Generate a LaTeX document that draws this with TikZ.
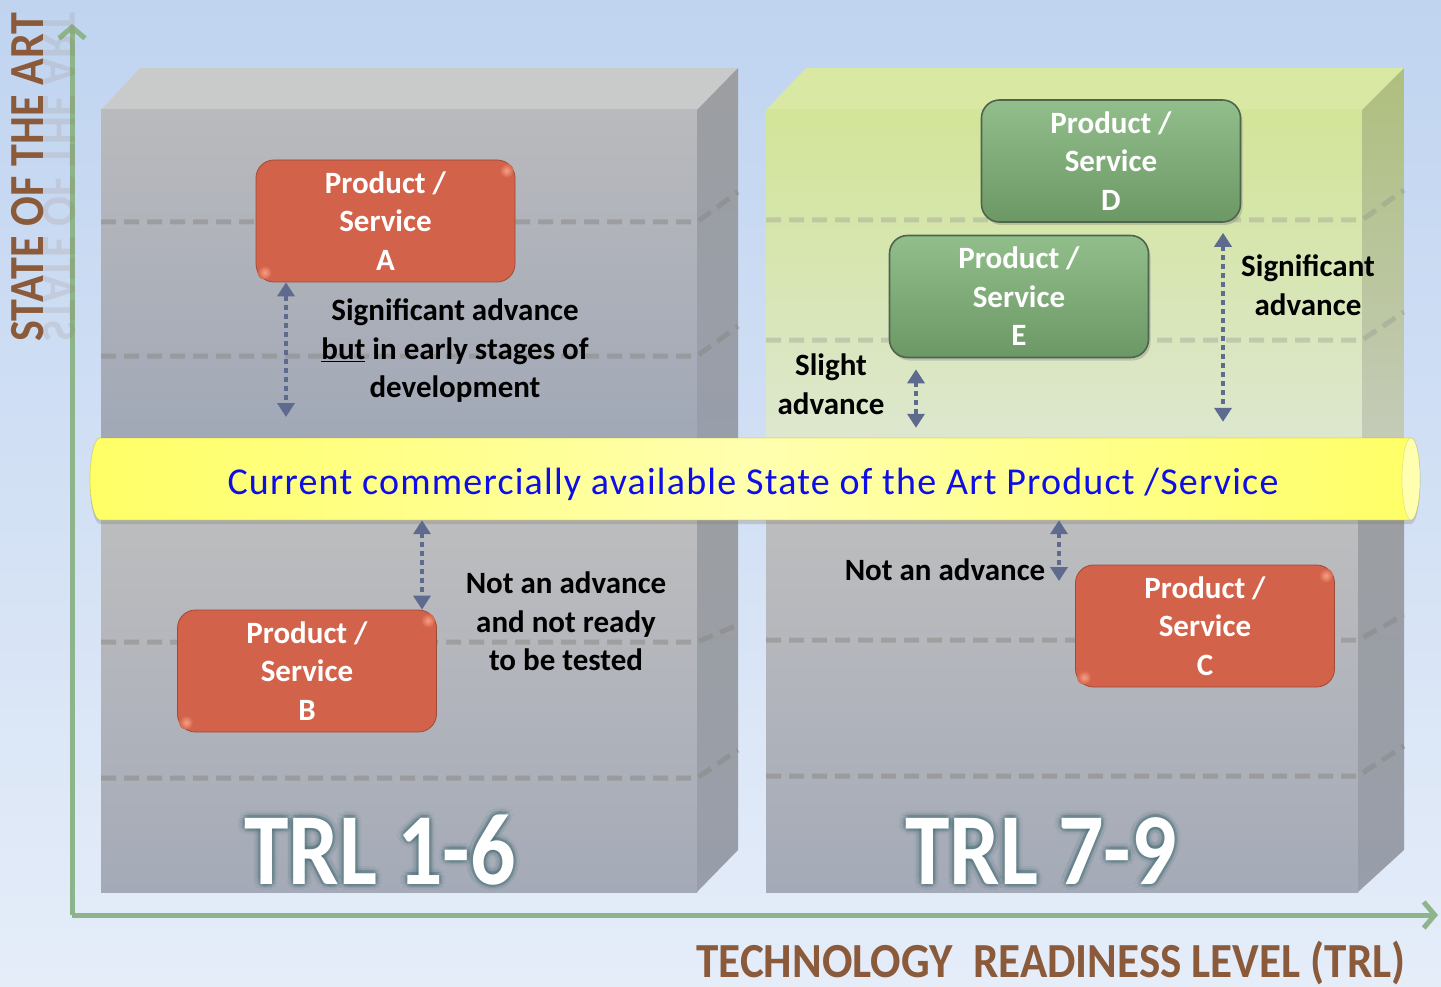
\documentclass[tikz,border=0pt]{standalone}
\usepackage{fontspec}
\setmainfont{Carlito}
\newfontfamily\bandfont[LetterSpace=3.2]{Carlito}
\usetikzlibrary{arrows.meta,shadows,calc}

\definecolor{bgT}{RGB}{192,212,240}
\definecolor{bgB}{RGB}{229,237,249}
\definecolor{axisg}{RGB}{141,180,138}
\definecolor{brownt}{RGB}{138,90,58}
\definecolor{grayTop}{RGB}{201,202,202}
\definecolor{grayFT}{RGB}{185,186,189}
\definecolor{grayFB}{RGB}{161,168,182}
\definecolor{grayLT}{RGB}{190,190,191}
\definecolor{grayLB}{RGB}{164,170,183}
\definecolor{graySideT}{RGB}{156,158,161}
\definecolor{graySideB}{RGB}{152,158,170}
\definecolor{grnTop}{RGB}{217,233,163}
\definecolor{grnFT}{RGB}{210,229,152}
\definecolor{grnFB}{RGB}{221,231,207}
\definecolor{grnSideT}{RGB}{174,191,126}
\definecolor{grnSideB}{RGB}{196,203,184}
\definecolor{orng}{RGB}{211,98,74}
\definecolor{orngL}{RGB}{245,160,132}
\definecolor{grnBoxT}{RGB}{146,190,140}
\definecolor{grnBoxB}{RGB}{108,152,102}
\definecolor{grnBoxD}{RGB}{78,100,76}
\definecolor{yel}{RGB}{255,255,102}
\definecolor{yelL}{RGB}{255,255,175}
\definecolor{bluet}{RGB}{14,14,232}
\definecolor{arrc}{RGB}{94,106,142}
\definecolor{glowc}{RGB}{60,104,112}
\definecolor{dashc}{RGB}{138,136,134}

\begin{document}
\begin{tikzpicture}[x=1pt,y=-1pt,
  prod/.style={rounded corners=18pt, minimum width=259pt, minimum height=122pt,
    align=center, inner sep=0pt, font=\bfseries\fontsize{31}{38.5}\selectfont, text=white},
  orbox/.style={prod, fill=orng, draw=orng!75!black, line width=0.8pt},
  grbox/.style={prod, top color=grnBoxT, bottom color=grnBoxB, draw=grnBoxD, line width=1.6pt,
    drop shadow={opacity=0.35, shadow xshift=2pt, shadow yshift=-3pt}},
  lbl/.style={align=center, inner sep=0pt, font=\bfseries\fontsize{31}{38.5}\selectfont, text=black},
  trl/.style={font=\bfseries\fontsize{102}{106}\selectfont, text=white, inner sep=0pt, anchor=base, xscale=0.88},
  dsh/.style={draw=dashc, line width=5pt, dash pattern=on 15pt off 8pt},
  darr/.style={draw=arrc, line width=4pt, dash pattern=on 5pt off 4pt,
    {Triangle[length=14pt,width=17pt]}-{Triangle[length=14pt,width=17pt]}},
  axisline/.style={draw=axisg, line width=5pt,
    -{Straight Barb[length=11pt,width=26pt,line width=5pt]}},
  axlbl/.style={font=\bfseries\fontsize{49}{52}\selectfont, text=brownt, inner sep=0pt, anchor=base}
]
\useasboundingbox (0,0) rectangle (1441,987);
% background
\shade[top color=bgT, bottom color=bgB] (0,0) rectangle (1441,987);

% axes
\coordinate (O) at (72,915);
\coordinate (yEnd) at (72,24);
\coordinate (xEnd) at (1438,915);
\draw[axisline] (O) -- (yEnd);
\draw[axisline] (O) -- (xEnd);

% axis labels
\node[axlbl, rotate=90, xscale=0.9, yscale=-1, opacity=0.12] (yref) at (43,177) {STATE OF THE ART};
\node[axlbl, rotate=90, xscale=0.9] (ylab) at (43,177) {STATE OF THE ART};
\node[axlbl, xscale=0.92] (xlab) at (1051,977) {TECHNOLOGY\ \ READINESS LEVEL (TRL)};

% ---------- Box 1: top-left (gray)
\fill[grayTop] (101,110) -- (140,68) -- (738,68) -- (697,110) -- cycle;
\shade[top color=grayFT, bottom color=grayFB] (101,110) rectangle (697,440);
\shade[top color=graySideT, bottom color=graySideB] (697,110) -- (738,68) -- (738,440) -- (697,440) -- cycle;
\draw[dsh, opacity=0.5] (101,222) -- (697,222) -- (738,192);
\draw[dsh, opacity=0.5] (101,356) -- (697,356) -- (738,326);

% ---------- Box 2: top-right (green)
\fill[grnTop] (766,110) -- (806,68) -- (1404,68) -- (1362,110) -- cycle;
\shade[top color=grnFT, bottom color=grnFB] (766,110) rectangle (1362,440);
\shade[top color=grnSideT, bottom color=grnSideB] (1362,110) -- (1404,68) -- (1404,440) -- (1362,440) -- cycle;
\draw[dsh, opacity=0.3] (766,220) -- (1362,220) -- (1404,190);
\draw[dsh, opacity=0.3] (766,340) -- (1362,340) -- (1404,312);

% ---------- Box 3: bottom-left (gray)
\shade[top color=grayLT, bottom color=grayLB] (101,500) rectangle (697,892);
\shade[top color=graySideT, bottom color=graySideB] (697,520) -- (738,480) -- (738,850) -- (697,892) -- cycle;
\draw[dsh, opacity=0.5] (101,642) -- (697,642) -- (738,625);
\draw[dsh, opacity=0.5] (101,778) -- (697,778) -- (738,750);

% ---------- Box 4: bottom-right (gray)
\shade[top color=grayLT, bottom color=grayLB] (766,500) rectangle (1358,892);
\shade[top color=graySideT, bottom color=graySideB] (1358,520) -- (1404,480) -- (1404,850) -- (1358,892) -- cycle;
\draw[dsh, opacity=0.5] (766,640) -- (1358,640) -- (1404,615);
\draw[dsh, opacity=0.5] (766,776) -- (1358,776) -- (1404,746);

% ---------- product boxes
\node[orbox] (A) at (385.5,221) {};
\node[orbox] (B) at (307,671) {};
\node[orbox] (C) at (1205,626) {};
% glossy corner highlights
\foreach \n in {A,B,C}{
  \shade[inner color=orngL, outer color=orng] ($(\n.north east)+(-9,11)$) circle (7);
  \shade[inner color=orngL, outer color=orng] ($(\n.south west)+(9,-10)$) circle (7);
}
\node[prod] (At) at (A) {Product /\\Service\\A};
\node[prod] (Bt) at (B) {Product /\\Service\\B};
\node[prod] (Ct) at (C) {Product /\\Service\\C};
\node[grbox] (D) at (1111,161) {Product /\\Service\\D};
\node[grbox] (E) at (1019,296.5) {Product /\\Service\\E};

% ---------- yellow band
\shade[left color=yel, right color=yel, middle color=yelL,
  drop shadow={opacity=0.3, shadow xshift=0pt, shadow yshift=-4pt},
  draw=yel!65!black, draw opacity=0.35, line width=0.8pt]
  (100,438) -- (1411,438) arc[start angle=-90, end angle=90, x radius=9, y radius=41]
  -- (100,520) arc[start angle=90, end angle=270, x radius=10, y radius=41] -- cycle;
\fill[yelL, draw=yel!65!black, draw opacity=0.3, line width=0.6pt] (1411,479) ellipse[x radius=9, y radius=41];
\node[minimum width=1330pt, minimum height=82pt, inner sep=0pt] (band) at (755,479) {};
\node[anchor=base, inner sep=0pt, font=\bandfont\fontsize{38}{42}\selectfont, text=bluet] (bandtxt) at (753,494)
  {Current commercially available State of the Art Product /Service};

% ---------- labels
\node[lbl] (lA) at (455,351) {Significant advance\\\underline{but} in early stages of\\development};
\node[lbl] (lB) at (566,621.5) {Not an advance\\and not ready\\to be tested};
\node[lbl] (lE) at (831,384) {Slight\\advance};
\node[lbl] (lD) at (1308,285) {Significant\\advance};
\node[lbl] (lC) at (945,570) {Not an advance};

% ---------- dotted double arrows
\coordinate (xa) at (286,417);
\coordinate (xb) at (422,0);
\coordinate (xs) at (916,0);
\coordinate (xd) at (1223,0);
\coordinate (xc) at (1059,581);
\draw[darr] (A.south -| xa) -- (xa);
\draw[darr] (band.south -| xb) -- (B.north -| xb);
\draw[darr, shorten <=11pt, shorten >=10pt] (E.south -| xs) -- (band.north -| xs);
\draw[darr, shorten <=10pt, shorten >=16pt] (D.south -| xd) -- (band.north -| xd);
\draw[darr] (band.south -| xc) -- (xc);

% ---------- TRL labels with soft glow
\foreach \a in {0,45,...,315}{
  \node[trl, text=glowc, opacity=0.07] at ($(380,884)+(\a:6.5)$) {TRL 1-6};
  \node[trl, text=glowc, opacity=0.16] at ($(380,884)+(\a:3)$) {TRL 1-6};
  \node[trl, text=glowc, opacity=0.07] at ($(1041,884)+(\a:6.5)$) {TRL 7-9};
  \node[trl, text=glowc, opacity=0.16] at ($(1041,884)+(\a:3)$) {TRL 7-9};
}
\node[trl] (trlA) at (380,884) {TRL 1-6};
\node[trl] (trlB) at (1041,884) {TRL 7-9};
\end{tikzpicture}
\end{document}
